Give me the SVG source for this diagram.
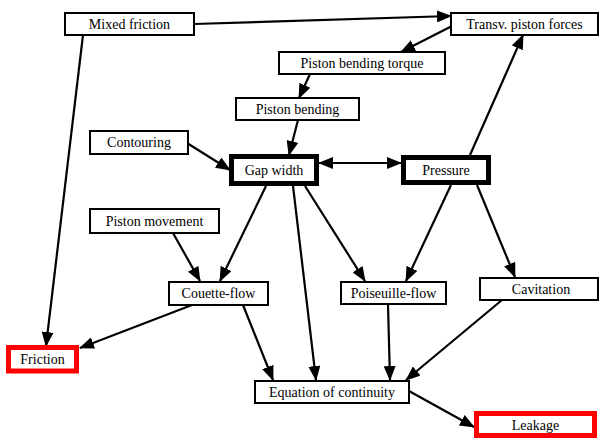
<svg xmlns="http://www.w3.org/2000/svg" width="600" height="439" viewBox="0 0 600 439">
<defs>
<style>
.n rect{fill:#fff;stroke:#000;stroke-width:2}
.n.b rect{stroke-width:5}
.n.r rect{stroke:#f00;stroke-width:5}
#edges line{stroke:#000;stroke-width:2.2;fill:none;marker-end:url(#ah)}
</style>
<marker id="ah" markerUnits="userSpaceOnUse" markerWidth="15" markerHeight="12" refX="14" refY="6" orient="auto-start-reverse" viewBox="0 0 15 12">
<path d="M0,0 L15,6 L0,12 Z" fill="#000"/>
</marker>
</defs>
<rect width="600" height="439" fill="#fff"/>
<g id="edges">
<line x1="194" y1="24" x2="451" y2="16"/>
<line x1="83" y1="35" x2="46" y2="346"/>
<line x1="454" y1="25" x2="401" y2="52"/>
<line x1="310" y1="74" x2="299" y2="98"/>
<line x1="298" y1="120" x2="289" y2="155"/>
<line x1="187" y1="143" x2="230" y2="170"/>
<line x1="319" y1="163" x2="401" y2="163" style="marker-start:url(#ah)"/>
<line x1="470" y1="155" x2="523" y2="35"/>
<line x1="266" y1="186" x2="220" y2="281"/>
<line x1="173" y1="233" x2="200" y2="281"/>
<line x1="293" y1="186" x2="316" y2="380"/>
<line x1="305" y1="186" x2="365" y2="281"/>
<line x1="451" y1="185" x2="406" y2="281"/>
<line x1="477" y1="185" x2="515" y2="277"/>
<line x1="192" y1="305" x2="80" y2="348"/>
<line x1="243" y1="305" x2="273" y2="380"/>
<line x1="388" y1="305" x2="390" y2="380"/>
<line x1="502" y1="300" x2="406" y2="380"/>
<line x1="409" y1="391" x2="474" y2="427"/>
</g>
<g font-family="Liberation Serif, serif" font-size="14" text-anchor="middle" fill="#000">
<g id="mixed-friction" class="n"><rect x="65" y="13" width="129" height="22"/><text x="129.5" y="29">Mixed friction</text></g>
<g id="transv-piston-forces" class="n"><rect x="451" y="13" width="147" height="22"/><text x="524.5" y="29">Transv. piston forces</text></g>
<g id="piston-bending-torque" class="n"><rect x="279" y="52" width="166" height="22"/><text x="362" y="68">Piston bending torque</text></g>
<g id="piston-bending" class="n"><rect x="236" y="98" width="123" height="22"/><text x="297.5" y="114">Piston bending</text></g>
<g id="contouring" class="n"><rect x="90" y="131" width="98" height="23"/><text x="139" y="147">Contouring</text></g>
<g id="gap-width" class="n b"><rect x="231.5" y="156.5" width="85" height="27"/><text x="274" y="175">Gap width</text></g>
<g id="pressure" class="n b"><rect x="403.5" y="157.5" width="85" height="25"/><text x="446" y="175">Pressure</text></g>
<g id="piston-movement" class="n"><rect x="90" y="209" width="129" height="24"/><text x="154.5" y="226">Piston movement</text></g>
<g id="couette-flow" class="n"><rect x="169" y="282" width="99" height="23"/><text x="218.5" y="298">Couette-flow</text></g>
<g id="poiseuille-flow" class="n"><rect x="341" y="282" width="105" height="22"/><text x="393.5" y="298">Poiseuille-flow</text></g>
<g id="cavitation" class="n"><rect x="480" y="278" width="118" height="22"/><text x="541" y="294">Cavitation</text></g>
<g id="friction" class="n r"><rect x="8.5" y="347.5" width="68" height="23.5"/><text x="42.5" y="364">Friction</text></g>
<g id="equation-of-continuity" class="n"><rect x="255" y="381" width="154" height="22"/><text x="332" y="397">Equation of continuity</text></g>
<g id="leakage" class="n r"><rect x="476.5" y="413.5" width="118" height="22"/><text x="535.5" y="430">Leakage</text></g>
</g>
</svg>
